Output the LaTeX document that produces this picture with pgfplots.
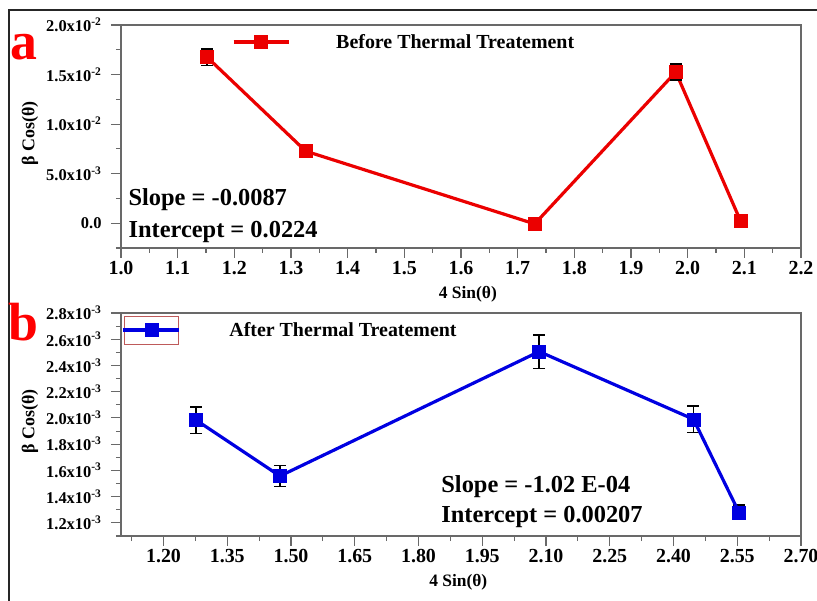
\documentclass[border=0pt]{standalone}
\usepackage{pgfplots}
\usepackage{pgfplotstable}
\pgfplotsset{compat=1.18}
\usepackage{fontspec}
\setmainfont{Liberation Serif}
\definecolor{axgray}{RGB}{105,105,105}
\definecolor{boxred}{RGB}{190,90,90}
\definecolor{pred}{RGB}{235,0,0}
\definecolor{pblue}{RGB}{0,0,225}

\pgfplotstableread{
x y e
1.152 0.01675 0.00082
1.326 0.00727 0.00040
1.730 -0.00007 0.00030
1.979 0.01525 0.00080
2.093 0.00027 0.00060
}\topdata

\pgfplotstableread{
x y e
1.277 0.001983 0.000100
1.474 0.001557 0.000080
2.084 0.002506 0.000128
2.447 0.001990 0.000100
2.554 0.001281 0.000055
}\botdata

\pgfplotsset{
 legA/.style={legend image code/.code={\draw[mark repeat=2, mark phase=2, ##1] plot coordinates {(0bp,0bp) (27.5bp,0bp) (55bp,0bp)};}},
 legB/.style={legend image code/.code={\draw[boxred, line width=0.8bp] (2bp,-14bp) rectangle (56bp,14bp);
    \draw[mark repeat=2, mark phase=2, ##1] plot coordinates {(0bp,0bp) (29bp,0bp) (56bp,0bp)};}},
 base/.style={
  scale only axis, width=680bp, height=223bp,
  axis line style={axgray, line width=1.1bp},
  tick style={axgray, line width=1.1bp},
  major tick length=10bp, minor tick length=5bp,
  tick align=outside,
  xtick pos=left, ytick pos=left,
  scaled y ticks=false, scaled x ticks=false,
  /pgf/number format/assume math mode=true,
  xticklabel style={font=\fontsize{20}{20}\selectfont\bfseries},
  yticklabel style={font=\fontsize{16.5}{16.5}\selectfont\bfseries, xshift=-6bp},
  every axis x label/.style={at={(rel axis cs:0.5,0)}, anchor=center, yshift=-46bp, font=\fontsize{17.5}{17.5}\selectfont\bfseries},
  every axis y label/.style={at={(rel axis cs:-0.1338,0.514)}, anchor=center, rotate=90, font=\fontsize{18}{18}\selectfont\bfseries},
  anchor=south west,
  clip=false,
  legend style={draw=none, fill=none, inner sep=0pt, nodes={inner sep=0pt}, font=\fontsize{20}{20}\selectfont\bfseries, anchor=west},
 }
}

\begin{document}
\begin{tikzpicture}
\path[use as bounding box] (0bp,0bp) rectangle (817bp,601bp);
\draw[line width=2.6bp, black!85] (9bp,0bp) -- (9bp,591bp) -- (817bp,591bp);

% ---------- panel a ----------
\begin{axis}[base, at={(121bp,353bp)},
  xmin=1.0, xmax=2.2, ymin=-0.0025, ymax=0.02,
  xtick={1.0,1.1,1.2,1.3,1.4,1.5,1.6,1.7,1.8,1.9,2.0,2.1,2.2},
  xticklabels={1.0,1.1,1.2,1.3,1.4,1.5,1.6,1.7,1.8,1.9,2.0,2.1,2.2},
  minor xtick={1.05,1.15,1.25,1.35,1.45,1.55,1.65,1.75,1.85,1.95,2.05,2.15},
  ytick={0,0.005,0.01,0.015,0.02},
  yticklabels={0.0, 5.0x10\textsuperscript{-3}, 1.0x10\textsuperscript{-2}, 1.5x10\textsuperscript{-2}, 2.0x10\textsuperscript{-2}},
  minor ytick={-0.0025,0.0025,0.0075,0.0125,0.0175},
  xlabel={4 Sin(θ)}, ylabel={β Cos(θ)},
  every axis x label/.append style={at={(rel axis cs:0.51,0)}},
  legend style={at={(rel axis cs:0.163,0.924)}},
]
\addplot[pred, line width=3.2bp, mark=square*, mark size=6.5bp, mark options={fill=pred, draw=pred, line width=0.5bp}, legA]
  table[x=x, y=y] {\topdata};
\addlegendentry{\hspace{46bp}Before Thermal Treatement}
\addplot[draw=none, mark=none, forget plot,
  error bars/.cd, y dir=both, y explicit,
  error bar style={draw=black, line width=1.5bp},
  error mark options={draw=black, rotate=90, mark size=6bp, line width=1.5bp}]
  table[x=x, y=y, y error=e] {\topdata};
\node[anchor=west, font=\fontsize{24.5}{24.5}\selectfont\bfseries] at (rel axis cs:0.006,0.215) {Slope = -0.0087};
\node[anchor=west, font=\fontsize{24.5}{24.5}\selectfont\bfseries] at (rel axis cs:0.006,0.072) {Intercept = 0.0224};
\end{axis}

% ---------- panel b ----------
\begin{axis}[base, at={(121bp,65bp)},
  xmin=1.1, xmax=2.7, ymin=0.0011, ymax=0.0028,
  xtick={1.20,1.35,1.50,1.65,1.80,1.95,2.10,2.25,2.40,2.55,2.70},
  xticklabels={1.20,1.35,1.50,1.65,1.80,1.95,2.10,2.25,2.40,2.55,2.70},
  minor xtick={1.125,1.275,1.425,1.575,1.725,1.875,2.025,2.175,2.325,2.475,2.625},
  ytick={0.0012,0.0014,0.0016,0.0018,0.0020,0.0022,0.0024,0.0026,0.0028},
  yticklabels={1.2x10\textsuperscript{-3},1.4x10\textsuperscript{-3},1.6x10\textsuperscript{-3},1.8x10\textsuperscript{-3},2.0x10\textsuperscript{-3},2.2x10\textsuperscript{-3},2.4x10\textsuperscript{-3},2.6x10\textsuperscript{-3},2.8x10\textsuperscript{-3}},
  minor ytick={0.0011,0.0013,0.0015,0.0017,0.0019,0.0021,0.0023,0.0025,0.0027},
  xlabel={4 Sin(θ)}, ylabel={β Cos(θ)},
  every axis x label/.append style={at={(rel axis cs:0.496,0)}},
  legend style={at={(rel axis cs:0,0.924)}},
]
\addplot[draw=none, mark=none, forget plot,
  error bars/.cd, y dir=both, y explicit,
  error bar style={draw=black, line width=1.5bp},
  error mark options={draw=black, rotate=90, mark size=6bp, line width=1.5bp}]
  table[x=x, y=y, y error=e] {\botdata};
\addplot[pblue, line width=3.2bp, mark=square*, mark size=6.5bp, mark options={fill=pblue, draw=pblue, line width=0.5bp}, legB]
  table[x=x, y=y] {\botdata};
\addlegendentry{\hspace{49bp}After Thermal Treatement}
\node[anchor=west, font=\fontsize{24.5}{24.5}\selectfont\bfseries] at (rel axis cs:0.466,0.221) {Slope = -1.02 E-04};
\node[anchor=west, font=\fontsize{24.5}{24.5}\selectfont\bfseries] at (rel axis cs:0.466,0.087) {Intercept = 0.00207};
\end{axis}

\node[red, font=\fontsize{54}{54}\selectfont\bfseries] at (24bp,554bp) {a};
\node[red, font=\fontsize{54}{54}\selectfont\bfseries] at (23bp,279bp) {b};
\end{tikzpicture}
\end{document}
